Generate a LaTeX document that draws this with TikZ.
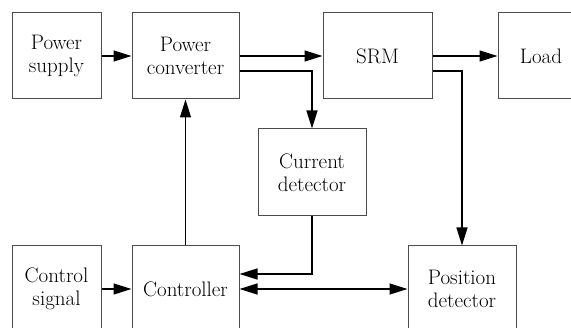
\documentclass[tikz,border=0pt]{standalone}
\usetikzlibrary{arrows.meta}
\begin{document}
\begin{tikzpicture}[x=1pt,y=-1pt,
  blockbox/.style={draw=black!70,line width=1pt,inner sep=0pt,align=center,
    font=\fontsize{21}{23}\selectfont},
  link/.style={line width=1.3pt,-{Triangle[length=18pt,width=11pt]}},
  biLink/.style={line width=1.3pt,{Triangle[length=18pt,width=11pt]}-{Triangle[length=18pt,width=11pt]}}]
\useasboundingbox (0,0) rectangle (571,328);
\clip (0,0) rectangle (571,328);
% blocks
\node[blockbox,minimum width=89pt,minimum height=86pt] (ps) at (56.5,56) {Power\\supply};
\node[blockbox,minimum width=107pt,minimum height=86pt] (pc) at (185.5,56) {Power\\converter};
\node[blockbox,minimum width=109pt,minimum height=86pt] (srm) at (377.5,56) {SRM};
\node[blockbox,minimum width=86pt,minimum height=86pt] (load) at (541,56) {Load};
\node[blockbox,minimum width=108pt,minimum height=87pt] (cd) at (312,172.5) {Current\\detector};
\node[blockbox,minimum width=89pt,minimum height=86pt] (cs) at (56.5,289) {Control\\signal};
\node[blockbox,minimum width=107pt,minimum height=86pt] (ctrl) at (185.5,289) {Controller};
\node[blockbox,minimum width=108pt,minimum height=86pt] (pd) at (462,289) {Position\\detector};
% connectors
\draw[link] (ps.east) -- (pc.west);
\draw[link] (pc.east) -- (srm.west);
\draw[link] ([yshift=-15pt]pc.east) -| (cd.north);
\draw[link] (srm.east) -- (load.west);
\draw[link] ([yshift=-15pt]srm.east) -| (pd.north);
\draw[link] (cd.south) |- ([yshift=15pt]ctrl.east);
\draw[biLink] (ctrl.east) -- (pd.west);
\draw[link] (ctrl.north) -- (pc.south);
\draw[link] (cs.east) -- (ctrl.west);
\end{tikzpicture}
\end{document}
